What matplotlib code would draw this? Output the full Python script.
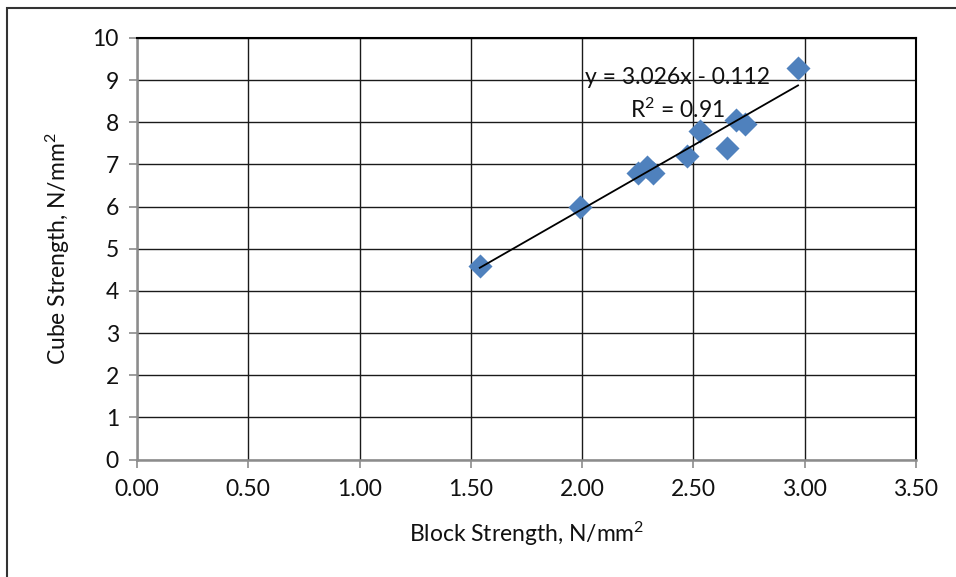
import matplotlib
matplotlib.use("Agg")
import matplotlib.pyplot as plt
import numpy as np
from matplotlib.patches import Rectangle

# block strength vs cube strength (N/mm2)
block = [1.54, 1.99, 2.25, 2.29, 2.32, 2.47, 2.53, 2.65, 2.69, 2.73, 2.97]
cube = [4.6, 6.0, 6.8, 6.95, 6.8, 7.2, 7.8, 7.4, 8.05, 7.97, 9.3]

# trendline shown on the chart
slope = 3.026
intercept = -0.112
r2 = 0.91

x_ticks = [0.0, 0.5, 1.0, 1.5, 2.0, 2.5, 3.0, 3.5]
y_ticks = [0, 1, 2, 3, 4, 5, 6, 7, 8, 9, 10]

plt.rcParams['font.family'] = ['Lato', 'DejaVu Sans']
plt.rcParams['mathtext.fontset'] = 'custom'
plt.rcParams['mathtext.rm'] = 'Lato'
plt.rcParams['mathtext.it'] = 'Lato:italic'
plt.rcParams['mathtext.default'] = 'rm'
FS = 16.5

W, H = 956, 577
fig = plt.figure(figsize=(W / 100, H / 100), dpi=100)
ax = fig.add_axes([137 / W, 1 - 459.5 / H, (916 - 137) / W, (459.5 - 38) / H])

# outer chart border (cut off at right and bottom)
fig.patches.append(Rectangle((7 / W, -0.1), 1.2, 1 - 8 / H + 0.1,
                             transform=fig.transFigure, fill=False,
                             edgecolor='#333333', linewidth=1.5))

ax.set_xlim(0, 3.5)
ax.set_ylim(0, 10)
ax.set_xticks(x_ticks)
ax.set_yticks(y_ticks)
ax.set_xticklabels(['%.2f' % t for t in x_ticks])
ax.grid(True, color='#1a1a1a', linewidth=1.0)
ax.set_axisbelow(True)

for s in ['left', 'bottom']:
    ax.spines[s].set_color('#8c8c8c')
    ax.spines[s].set_linewidth(1.8)
for s in ['top', 'right']:
    ax.spines[s].set_color('#000000')
    ax.spines[s].set_linewidth(1.5)

ax.tick_params(axis='both', direction='out', length=6, width=1.2,
               color='#8c8c8c', labelsize=FS, labelcolor='#111111')
ax.tick_params(axis='x', pad=8)
ax.tick_params(axis='y', pad=7)

ax.scatter(block, cube, marker='D', s=150, color='#4F81BD', zorder=3,
           linewidths=0)

xs = np.array([min(block), max(block)])
ax.plot(xs, slope * xs + intercept, color='black', linewidth=1.3, zorder=4)

sign = '-' if intercept < 0 else '+'
ax.text(2.43, 8.66, 'y = %.3fx %s %.3f\nR$^2$ = %.2f' % (slope, sign, abs(intercept), r2),
        ha='center', va='center', multialignment='center', fontsize=FS,
        color='#111111', linespacing=1.5, zorder=5)

ax.set_xlabel('Block Strength, N/mm$^2$', fontsize=FS, color='#111111', labelpad=14)
ax.set_ylabel('Cube Strength, N/mm$^2$', fontsize=FS, color='#111111', labelpad=15)

fig.savefig('out.png', dpi=100)
